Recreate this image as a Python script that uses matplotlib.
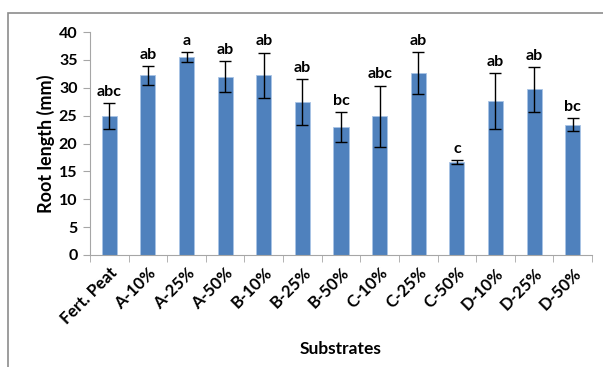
import numpy as np
import matplotlib.pyplot as plt
from matplotlib.patches import Rectangle

plt.rcParams['font.family'] = ['Lato', 'DejaVu Sans']

substrates = ['Fert. Peat', 'A-10%', 'A-25%', 'A-50%', 'B-10%', 'B-25%', 'B-50%',
              'C-10%', 'C-25%', 'C-50%', 'D-10%', 'D-25%', 'D-50%']
root_length = [24.9, 32.2, 35.5, 32.0, 32.2, 27.4, 23.0, 24.9, 32.6, 16.7, 27.6, 29.7, 23.4]
root_err = [2.3, 1.7, 0.9, 2.8, 4.1, 4.1, 2.7, 5.5, 3.8, 0.4, 5.0, 4.0, 1.2]
letters = ['abc', 'ab', 'a', 'ab', 'ab', 'ab', 'bc', 'abc', 'ab', 'c', 'ab', 'ab', 'bc']

fig = plt.figure(figsize=(6.03, 3.67), dpi=100)
ax = fig.add_axes([90/603, 1 - 255/367, 502/603, 223/367])

# chart area frame
fig.patches.append(Rectangle((8/603, -0.1), 1.2, 1 - 13/367 + 0.1, transform=fig.transFigure,
                             fill=False, edgecolor='#8c8c8c', linewidth=1.2))

x = np.arange(len(substrates))
ax.bar(x, root_length, width=0.39, color='#4F81BD', edgecolor='#a9c4e6', linewidth=0.6, zorder=2)
ax.errorbar(x, root_length, yerr=root_err, fmt='none', ecolor='black', elinewidth=1,
            capsize=4, capthick=1, zorder=3)

for xi, v, e, lab in zip(x, root_length, root_err, letters):
    ax.annotate(lab, (xi, v + e), xytext=(0, 3), textcoords='offset points',
                ha='center', va='bottom', fontsize=11.5, fontweight='bold')

ax.set_xlim(-0.5, len(substrates) - 0.5)
ax.set_ylim(0, 40)
ax.set_yticks(range(0, 41, 5))
ax.set_xticks(x)
ax.set_xticklabels(substrates, rotation=45, ha='right', rotation_mode='anchor',
                   fontsize=12, fontweight='bold')
ax.tick_params(axis='x', length=0, pad=7)
ax.set_xticks(np.arange(-0.5, len(substrates), 1), minor=True)
ax.tick_params(axis='x', which='minor', length=5, color='#a6a6a6')
ax.tick_params(axis='y', length=5, color='#a6a6a6', labelsize=11.5, pad=4)
for t in ax.get_yticklabels():
    t.set_fontweight('bold')

for s in ['top', 'right']:
    ax.spines[s].set_visible(False)
for s in ['left', 'bottom']:
    ax.spines[s].set_color('#a6a6a6')

ax.set_ylabel('Root length (mm)', fontsize=13, fontweight='bold', labelpad=3)
ax.set_xlabel('Substrates', fontsize=12.5, fontweight='bold', labelpad=10)

fig.savefig('out.png', dpi=100)
